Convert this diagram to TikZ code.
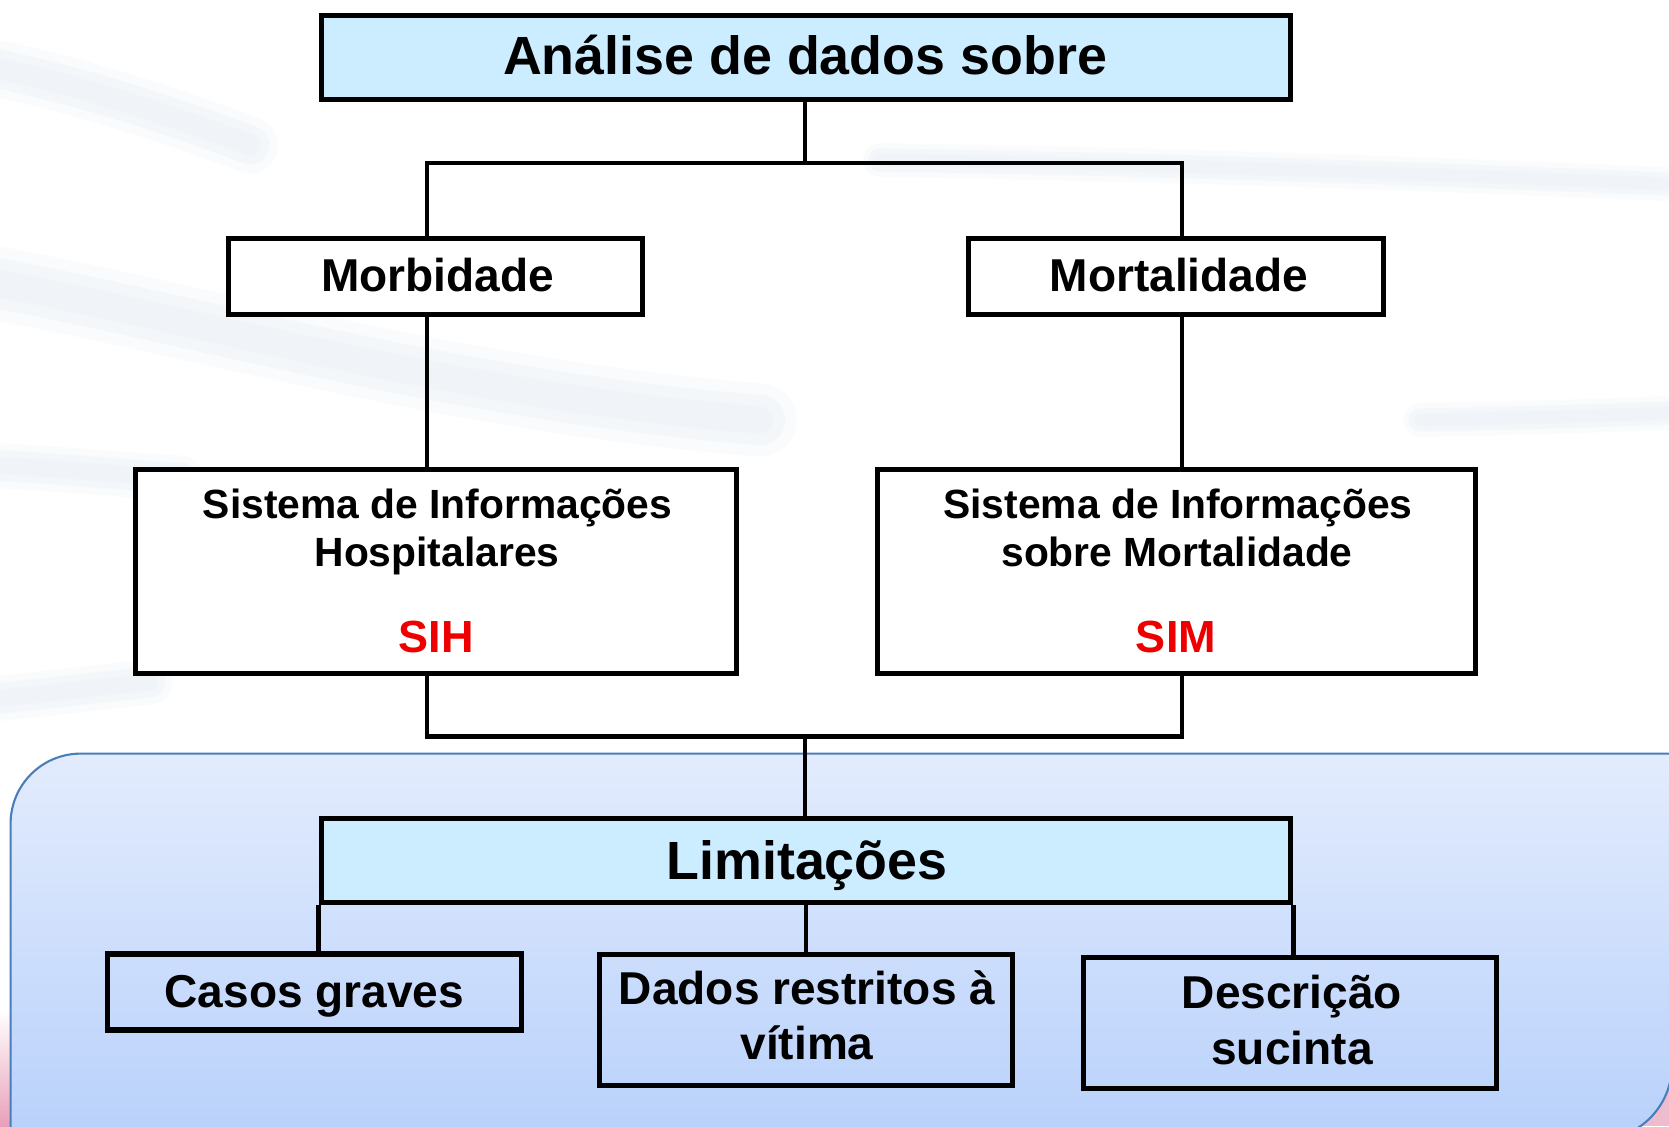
\documentclass[tikz,border=0pt]{standalone}
\usepackage{fontspec}
\setmainfont{Liberation Sans}
\definecolor{cyanfill}{RGB}{204,236,255}
\definecolor{paneltop}{RGB}{227,236,253}
\definecolor{panelbot}{RGB}{166,197,250}
\definecolor{panelline}{RGB}{74,126,187}
\definecolor{streakcol}{RGB}{222,231,241}
\definecolor{pinkglow}{RGB}{232,160,185}
\definecolor{sisred}{RGB}{238,0,0}
\begin{document}
\begin{tikzpicture}[x=0.01cm,y=-0.01cm,
  box/.style={draw=black, line width=1.5pt, rectangle, inner sep=0pt},
  conn/.style={draw=black, line width=1.3pt},
  bigtxt/.style={inner sep=0pt, anchor=base, font=\bfseries\fontsize{15.3}{18}\selectfont},
  midtxt/.style={inner sep=0pt, anchor=base, font=\bfseries\fontsize{13.1}{16}\selectfont},
  smalltxt/.style={inner sep=0pt, anchor=base, font=\bfseries\fontsize{11.6}{14}\selectfont},
  redtxt/.style={inner sep=0pt, anchor=base, text=sisred, font=\bfseries\fontsize{12.8}{15}\selectfont},
  streak/.style={draw=streakcol, line cap=round, opacity=0.16}
]
\useasboundingbox (0,0) rectangle (1669,1126);
\fill[white] (0,0) rectangle (1669,1126);

% faint background streaks (soft, layered)
\foreach \w in {16,11,6}{
  \draw[streak, line width=\w pt] (-20,65) .. controls (80,85) and (170,115) .. (250,145);
  \draw[streak, line width=1.3*\w pt] (-20,280) .. controls (200,320) and (450,395) .. (760,420);
  \draw[streak, line width=0.8*\w pt] (-20,465) .. controls (60,468) and (120,475) .. (180,478);
  \draw[streak, line width=0.8*\w pt] (-20,700) .. controls (40,695) and (90,688) .. (150,682);
  \draw[streak, line width=0.6*\w pt] (880,160) .. controls (1200,165) and (1450,175) .. (1690,185);
  \draw[streak, line width=0.6*\w pt] (1420,420) .. controls (1520,418) and (1600,416) .. (1690,412);
}

% pink glow
\shade[top color=white, bottom color=pinkglow] (0,1010) rectangle (14,1126);
\fill[pinkglow!70] (1560,1040) rectangle (1669,1126);

% background panel (round diagonal corners)
\shade[top color=paneltop, bottom color=panelbot]
  (10.6,1300) -- (10.6,823.6) arc[start angle=180, end angle=270, radius=70]
  -- (1672,753.6) -- (1672,1065) arc[start angle=0, end angle=90, radius=75]
  -- (10.6,1140) -- cycle;
\draw[panelline, line width=0.6pt]
  (10.6,1300) -- (10.6,823.6) arc[start angle=180, end angle=270, radius=70]
  -- (1672,753.6) -- (1672,1065) arc[start angle=0, end angle=90, radius=75];

% boxes
\node[box, fill=cyanfill, minimum width=9.69cm, minimum height=0.84cm] (top) at (806,57.5) {};
\node[box, fill=white, minimum width=4.14cm, minimum height=0.76cm] (morb) at (435.5,276.5) {};
\node[box, fill=white, minimum width=4.15cm, minimum height=0.76cm] (mort) at (1176,276.5) {};
\node[box, fill=white, minimum width=6.01cm, minimum height=2.04cm] (sih) at (436,571.5) {};
\node[box, fill=white, minimum width=5.98cm, minimum height=2.04cm] (sim) at (1176.5,571.5) {};
\node[box, fill=cyanfill, minimum width=9.69cm, minimum height=0.84cm] (lim) at (806,860.5) {};
\node[box, minimum width=4.14cm, minimum height=0.76cm] (casos) at (314.5,992) {};
\node[box, minimum width=4.13cm, minimum height=1.31cm] (dados) at (806,1020) {};
\node[box, minimum width=4.13cm, minimum height=1.31cm] (desc) at (1290,1023) {};

% texts
\node[bigtxt] (toptxt) at (805,74) {Análise de dados sobre};
\node[midtxt] (morbtxt) at (437.5,291) {Morbidade};
\node[midtxt] (morttxt) at (1179,291) {Mortalidade};
\node[smalltxt] (sihA) at (437.5,518) {Sistema de Informações};
\node[smalltxt] (sihB) at (437,566.5) {Hospitalares};
\node[redtxt] (sihC) at (436,652.5) {SIH};
\node[smalltxt] (simA) at (1178,518) {Sistema de Informações};
\node[smalltxt] (simB) at (1177,566.5) {sobre Mortalidade};
\node[redtxt] (simC) at (1176,652.5) {SIM};
\node[bigtxt] (limtxt) at (807,879) {Limitações};
\node[midtxt] (casostxt) at (314.5,1007) {Casos graves};
\node[midtxt] (dadosA) at (807,1004) {Dados restritos à};
\node[midtxt] (dadosB) at (807,1059) {vítima};
\node[midtxt] (descA) at (1292,1008) {Descrição};
\node[midtxt] (descB) at (1292,1064) {sucinta};

% connectors
\coordinate (uL) at (427,163);
\coordinate (uR) at (1182,163);
\coordinate (uC) at (805,163);
\coordinate (dL) at (427,736.6);
\coordinate (dR) at (1182,736.6);
\coordinate (dC) at (805,736.6);
\draw[conn] (uC |- top.south) -- (uC);
\draw[conn] (uL |- morb.north) -- (uL) -- (uR) -- (uR |- mort.north);
\draw[conn] (uL |- morb.south) -- (uL |- sih.north);
\draw[conn] (uR |- mort.south) -- (uR |- sim.north);
\draw[conn] (dL |- sih.south) -- (dL) -- (dR) -- (dR |- sim.south);
\draw[conn] (dC) -- (dC |- lim.north);
\draw[conn] (lim.south west) -- (lim.south west |- casos.north);
\draw[conn] (lim.south) -- (lim.south |- dados.north);
\draw[conn] (lim.south east) -- (lim.south east |- desc.north);
\end{tikzpicture}
\end{document}
